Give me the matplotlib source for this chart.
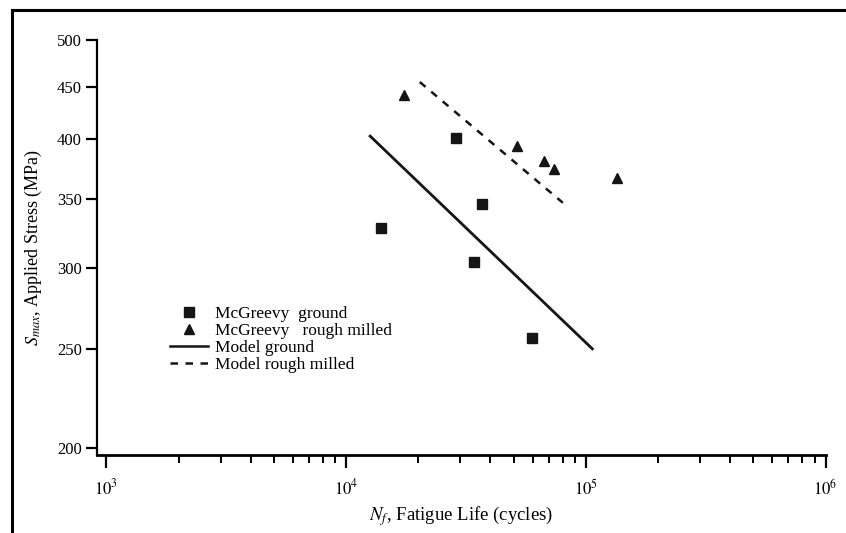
import matplotlib
matplotlib.use("Agg")
import numpy as np
from matplotlib import pyplot as plt
from matplotlib.lines import Line2D
from matplotlib.ticker import FixedLocator, LogLocator, NullFormatter

plt.rcParams["font.family"] = ["Liberation Serif", "DejaVu Serif"]
plt.rcParams["mathtext.fontset"] = "stix"

#####################################################################################################
# Data

ground_life = [14050, 28700, 36800, 34100, 59400]
ground_stress = [328, 401, 346, 304, 256]

milled_life = [17400, 51600, 66900, 73800, 134500]
milled_stress = [442, 394, 381, 374, 367]

model_ground_life = [12600, 106500]
model_ground_stress = [403, 250]

model_milled_life = [20300, 80200]
model_milled_stress = [455, 347]

y_ticks = [200, 250, 300, 350, 400, 450, 500]
x_ticks = [1e3, 1e4, 1e5, 1e6]
x_ticklabels = [r"$10^3$", r"$10^4$", r"$10^5$", r"$10^6$"]

#####################################################################################################
# Figure

fig = plt.figure(figsize=(8.46, 5.33), dpi=100)
ax = fig.add_axes([97 / 846, (533 - 455) / 533, (825.5 - 97) / 846, (455 - 40) / 533])

ax.plot(ground_life, ground_stress, "s", color="#151515", markersize=7, linestyle="none")
ax.plot(milled_life, milled_stress, "^", color="#151515", markersize=7.5, linestyle="none")
ax.plot(model_ground_life, model_ground_stress, "-", color="#151515", linewidth=2)
ax.plot(model_milled_life, model_milled_stress, "--", color="#151515", linewidth=1.8, dashes=(3, 3))

ax.set_xscale("log")
ax.set_yscale("log")
ax.set_xlim(914, 1e6)
ax.set_ylim(197, 500)

ax.set_yticks(y_ticks)
ax.set_yticklabels([str(v) for v in y_ticks])
ax.yaxis.set_minor_locator(FixedLocator([]))
ax.yaxis.set_minor_formatter(NullFormatter())

ax.set_xticks(x_ticks)
ax.set_xticklabels(x_ticklabels)
ax.xaxis.set_minor_locator(LogLocator(base=10, subs=np.arange(2, 10)))
ax.xaxis.set_minor_formatter(NullFormatter())

ax.spines["top"].set_visible(False)
ax.spines["right"].set_visible(False)
ax.spines["left"].set_linewidth(1.6)
ax.spines["bottom"].set_linewidth(2.0)

ax.tick_params(axis="y", which="major", length=8, width=1.6, labelsize=12, pad=3, direction="out")
ax.tick_params(axis="x", which="major", length=9, width=1.6, labelsize=12, pad=8, direction="out")
ax.tick_params(axis="x", which="minor", length=6, width=1.4, direction="out")

ax.set_xlabel(r"$N_f$, Fatigue Life (cycles)", fontsize=13.5, labelpad=4)
ax.set_ylabel(r"$S_{max}$, Applied Stress (MPa)", fontsize=13, labelpad=9)

handles = [
    Line2D([], [], marker="s", color="#151515", linestyle="none", markersize=7),
    Line2D([], [], marker="^", color="#151515", linestyle="none", markersize=7.5),
    Line2D([], [], color="#151515", linewidth=1.8),
    Line2D([], [], color="#151515", linewidth=1.8, linestyle="--", dashes=(3, 3)),
]
labels = ["McGreevy  ground", "McGreevy   rough milled", "Model ground", "Model rough milled"]
ax.legend(handles, labels, loc="upper left", bbox_to_anchor=(161 / 846, 1 - 297 / 533),
          bbox_transform=fig.transFigure, frameon=False, fontsize=12.5,
          handlelength=2.2, handletextpad=0.4, labelspacing=0.05, borderpad=0)

# border round the picture (left and top only)
fig.add_artist(Line2D([12 / 846, 12 / 846], [0, 1 - 10 / 533], color="black", linewidth=2.2,
                      transform=fig.transFigure))
fig.add_artist(Line2D([12 / 846, 1], [1 - 10 / 533, 1 - 10 / 533], color="black", linewidth=2.2,
                      transform=fig.transFigure))

fig.savefig("out.png", dpi=100)
